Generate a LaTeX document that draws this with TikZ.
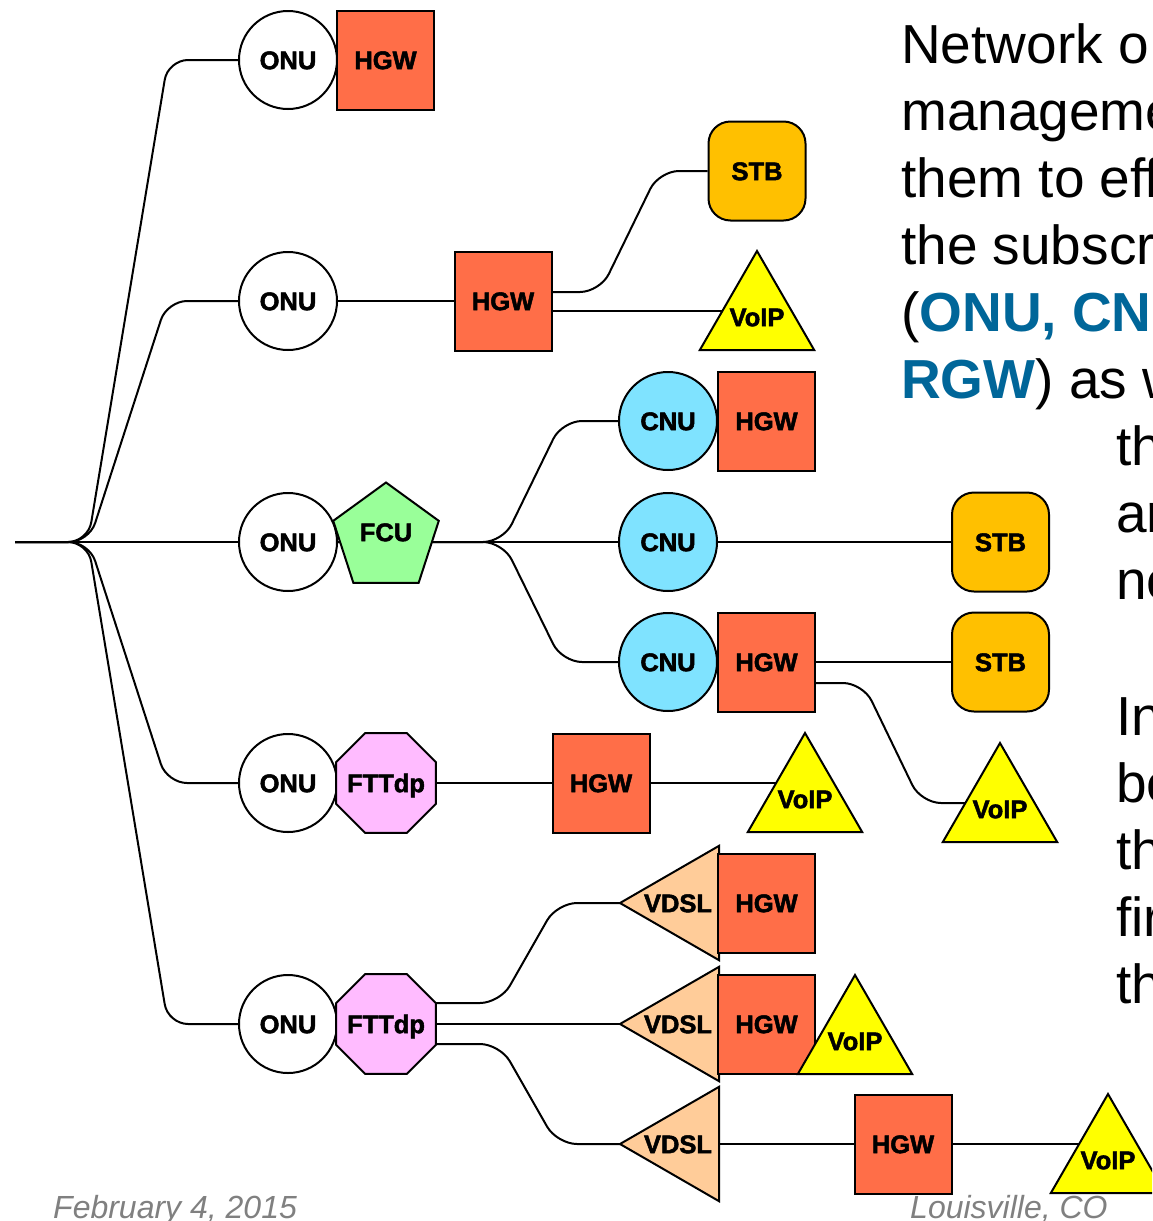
\documentclass[tikz,border=0pt]{standalone}
\usepackage{fontspec}
\setmainfont{Liberation Sans}
\newfontfamily\devfont[BoldFeatures={FakeBold=2}]{Liberation Sans}
\usetikzlibrary{backgrounds}

\definecolor{hgwcol}{HTML}{FF6E48}
\definecolor{stbcol}{HTML}{FFC000}
\definecolor{voipcol}{HTML}{FFFF00}
\definecolor{cnucol}{HTML}{7FE3FF}
\definecolor{fcucol}{HTML}{99FF99}
\definecolor{fttcol}{HTML}{FFBBFF}
\definecolor{vdslcol}{HTML}{FFCC99}
\definecolor{txtblue}{HTML}{006699}
\definecolor{footgray}{HTML}{808080}

\tikzset{
  conn/.style={line width=2pt, line join=round},
  lbl/.style={inner sep=0pt,
    font=\devfont\bfseries\fontsize{25.5}{26}\selectfont,
    text height=18.3pt, text depth=0pt},
  devbox/.style={lbl, draw, line width=2pt},
  onubox/.style={devbox, circle, fill=white, minimum size=98pt},
  cnubox/.style={devbox, circle, fill=cnucol, minimum size=98pt},
  hgwbox/.style={devbox, rectangle, fill=hgwcol, minimum width=97pt, minimum height=99pt},
  stbbox/.style={devbox, rectangle, rounded corners=22pt, fill=stbcol,
    minimum width=97pt, minimum height=99pt},
  polyline/.style={draw, line width=2pt, line join=miter},
  voipshape/.style={polyline, fill=voipcol},
  fcushape/.style={polyline, fill=fcucol},
  fttshape/.style={polyline, fill=fttcol},
  vdslshape/.style={polyline, fill=vdslcol},
  bigtxt/.style={anchor=base west, inner sep=0pt,
    font=\fontsize{55}{66}\selectfont},
  foottxt/.style={anchor=base west, inner sep=0pt, text=footgray,
    font=\itshape\fontsize{32}{38}\selectfont},
}

% upward triangle (VoIP), centroid #1,#2
\newcommand{\voiptri}[2]{%
  \path[voipshape] (#1,#2) +(270:66) -- +(30:66) -- +(150:66) -- cycle;}
% left-pointing triangle (VDSL), centroid #1,#2
\newcommand{\vdsltri}[2]{%
  \path[vdslshape] (#1,#2) +(180:66) -- +(300:66) -- +(60:66) -- cycle;}
% octagon (FTTdp), centre #1,#2
\newcommand{\fttoct}[2]{%
  \path[fttshape] (#1,#2) +(22.5:54.1) -- +(67.5:54.1) -- +(112.5:54.1)
    -- +(157.5:54.1) -- +(202.5:54.1) -- +(247.5:54.1) -- +(292.5:54.1)
    -- +(337.5:54.1) -- cycle;}

\begin{document}
\begin{tikzpicture}[x=1pt, y=-1pt]
  \useasboundingbox (0,0) rectangle (1152,1221);
  \clip (0,0) rectangle (1152,1221);

  % trunk of the tree
  \coordinate (root) at (15,542);

  % row 1
  \node[onubox] (onu1) at (288,60) {ONU};
  \node[hgwbox] (hgw1) at (385.5,60) {HGW};

  % row 2
  \node[onubox] (onu2) at (288,301) {ONU};
  \node[hgwbox] (hgw2) at (503,301) {HGW};
  \node[stbbox] (stb1) at (757,171) {STB};
  \voiptri{757}{317}
  \node[lbl] (voip1) at (757,317) {VoIP};

  % row 3
  \node[onubox] (onu3) at (288,542) {ONU};
  \path[fcushape] (386,538) +(270:55.5) -- +(342:55.5) -- +(54:55.5)
    -- +(126:55.5) -- +(198:55.5) -- cycle;
  \node[lbl] (fcu) at (386,532) {FCU};
  \node[cnubox] (cnu1) at (668,421) {CNU};
  \node[hgwbox] (hgw3) at (766.5,421) {HGW};
  \node[cnubox] (cnu2) at (668,542) {CNU};
  \node[stbbox] (stb2) at (1000.5,542) {STB};
  \node[cnubox] (cnu3) at (668,662) {CNU};
  \node[hgwbox] (hgw4) at (766.5,662) {HGW};
  \node[stbbox] (stb3) at (1000.5,662) {STB};
  \voiptri{1000}{809}
  \node[lbl] (voip2) at (1000,809) {VoIP};

  % row 4
  \node[onubox] (onu4) at (288,783) {ONU};
  \fttoct{386}{783}
  \node[lbl] (ftt1) at (386,783) {FTTdp};
  \node[hgwbox] (hgw5) at (601,783) {HGW};
  \voiptri{805}{799}
  \node[lbl] (voip3) at (805,799) {VoIP};

  % row 5
  \node[onubox] (onu5) at (288,1024) {ONU};
  \fttoct{386}{1024}
  \node[lbl] (ftt2) at (386,1024) {FTTdp};
  \vdsltri{686}{903}
  \node[lbl] (vdsl1) at (678,903) {VDSL};
  \node[hgwbox] (hgw6) at (766.5,903) {HGW};
  \vdsltri{686}{1024}
  \node[lbl] (vdsl2) at (678,1024) {VDSL};
  \node[hgwbox] (hgw7) at (766.5,1024) {HGW};
  \voiptri{855}{1041}
  \node[lbl] (voip4) at (855,1041) {VoIP};
  \vdsltri{686}{1144}
  \node[lbl] (vdsl3) at (678,1144) {VDSL};
  \node[hgwbox] (hgw8) at (903,1144) {HGW};
  \voiptri{1108}{1160}
  \node[lbl] (voip5) at (1108,1160) {VoIP};

  % connectors, drawn beneath the devices
  \begin{scope}[on background layer]
    \fill[white] (0,0) rectangle (1152,1221);
    \draw[conn, rounded corners=20pt] (root) -- (88,542) -- (168,60) -- (onu1.west);
    \draw[conn, rounded corners=20pt] (root) -- (89,542) -- (167,301) -- (onu2.west);
    \draw[conn] (root) -- (onu3.west);
    \draw[conn, rounded corners=20pt] (root) -- (89,542) -- (167,783) -- (onu4.west);
    \draw[conn, rounded corners=20pt] (root) -- (88,542) -- (168,1024) -- (onu5.west);

    \draw[conn] (onu2.east) -- (hgw2.west);
    \draw[conn, rounded corners=20pt] ([yshift=9pt]hgw2.east) -- (600,292) -- (659,171) -- (stb1.west);
    \draw[conn] ([yshift=-10pt]hgw2.east) -- ([yshift=6pt]voip1.center);

    \draw[conn] (onu3.east) -- (cnu2.west);
    \draw[conn, rounded corners=20pt] (onu3.east) -- (503,542) -- (562,421) -- (cnu1.west);
    \draw[conn, rounded corners=20pt] (onu3.east) -- (503,542) -- (562,662) -- (cnu3.west);
    \draw[conn] (cnu2.east) -- (stb2.west);
    \draw[conn] (hgw4.east) -- (stb3.west);
    \draw[conn, rounded corners=20pt] ([yshift=-21pt]hgw4.east) -- (863,683) -- (921,803) -- ([yshift=6pt]voip2.center);

    \draw[conn] (onu4.east) -- (hgw5.west);
    \draw[conn] (hgw5.east) -- ([yshift=16pt]voip3.center);

    \draw[conn] (onu5.east) -- (vdsl2.center);
    \draw[conn, rounded corners=20pt] ([xshift=50pt,yshift=21pt]ftt2.center) -- (500,1003) -- (557,903) -- (vdsl1.center);
    \draw[conn, rounded corners=20pt] ([xshift=50pt,yshift=-20pt]ftt2.center) -- (500,1044) -- (557,1144) -- (vdsl3.center);
    \draw[conn] (vdsl3.center) -- (hgw8.west);
    \draw[conn] (hgw8.east) -- ([yshift=16pt]voip5.center);
  \end{scope}

  % running text at the right
  \node[bigtxt] (t1) at (901,63) {Network o};
  \node[bigtxt] (t2) at (901,130) {manageme};
  \node[bigtxt] (t3) at (901,197) {them to eff};
  \node[bigtxt] (t4) at (901,264) {the subscri};
  \node[bigtxt] (t5) at (901,331) {(\textcolor{txtblue}{\bfseries ONU, CNU}};
  \node[bigtxt] (t6) at (901,398) {\textcolor{txtblue}{\bfseries RGW}) as w};
  \node[bigtxt] (t7) at (1116,465) {th};
  \node[bigtxt] (t8) at (1116,532) {ar};
  \node[bigtxt] (t9) at (1116,599) {ne};
  \node[bigtxt] (t10) at (1116,735) {In};
  \node[bigtxt] (t11) at (1116,802) {be};
  \node[bigtxt] (t12) at (1116,869) {th};
  \node[bigtxt] (t13) at (1116,936) {fir};
  \node[bigtxt] (t14) at (1116,1003) {th};

  % footer
  \node[foottxt] (date) at (53,1218) {February 4, 2015};
  \node[foottxt] (place) at (910,1218) {Louisville, CO};
\end{tikzpicture}
\end{document}
